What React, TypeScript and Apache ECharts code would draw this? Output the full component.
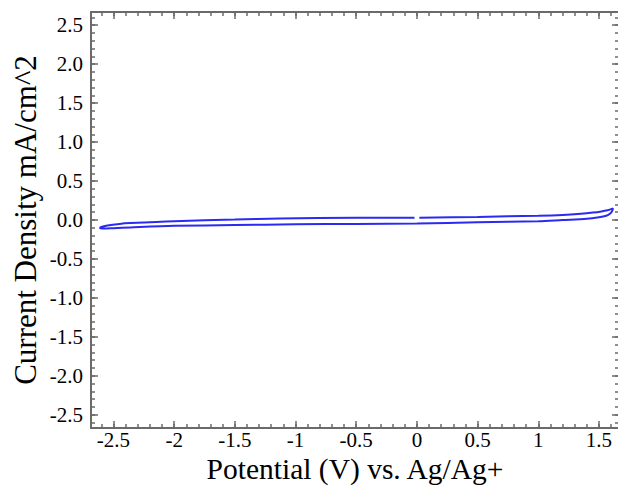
import React, { useEffect, useRef } from "react";
import * as echarts from "echarts";

// Cyclic voltammogram: potential (V) vs. current density (mA/cm^2)
const potential = [
  0.02, 0.5, 1.0, 1.2, 1.35, 1.45, 1.52, 1.57, 1.6, 1.615,
  1.61, 1.59, 1.56, 1.5, 1.4, 1.2, 1.0, 0.5, 0, -0.5, -1.0, -1.5, -2.0, -2.36, -2.5, -2.58, -2.61,
  -2.6, -2.55, -2.45, -2.36, -2.0, -1.5, -1.13, -0.5, -0.02,
];
const current = [
  0.03, 0.04, 0.055, 0.065, 0.08, 0.095, 0.11, 0.125, 0.14, 0.15,
  0.12, 0.08, 0.055, 0.035, 0.015, 0.0, -0.015, -0.03, -0.045, -0.05, -0.055, -0.065, -0.075, -0.095, -0.105, -0.11, -0.105,
  -0.09, -0.07, -0.05, -0.04, -0.015, 0.005, 0.02, 0.03, 0.03,
];

const xTickLabels = [-2.5, -2, -1.5, -1, -0.5, 0, 0.5, 1, 1.5];
const yTickLabels = [-2.5, -2.0, -1.5, -1.0, -0.5, 0.0, 0.5, 1.0, 1.5, 2.0, 2.5];

const X_MIN = -2.685;
const X_MAX = 1.665;
const Y_MIN = -2.67;
const Y_MAX = 2.67;

function minorTicks(lo: number, hi: number, step: number) {
  const out: number[] = [];
  const start = Math.ceil(lo / step);
  const end = Math.floor(hi / step);
  for (let i = start; i <= end; i++) out.push(Math.round(i * step * 100) / 100);
  return out;
}

const FONT = "Liberation Serif";
const AXIS_COLOR = "#6a6a6a";

export default function App() {
  const ref = useRef<HTMLDivElement>(null);

  useEffect(() => {
    if (!ref.current) return;
    const chart = echarts.init(ref.current, null, { renderer: "svg" });
    const xMinor = minorTicks(X_MIN, X_MAX, 0.1);
    const yMinor = minorTicks(Y_MIN, Y_MAX, 0.1);

    const baseX = (position: string, major: boolean, main: boolean) => ({
      type: "value",
      position,
      min: X_MIN,
      max: X_MAX,
      axisLine: { show: main, onZero: false, lineStyle: { color: AXIS_COLOR, width: 2 } },
      axisTick: {
        show: true,
        inside: true,
        length: major ? 7 : 4,
        customValues: major ? xTickLabels : xMinor,
        lineStyle: { color: AXIS_COLOR, width: 1.5 },
      },
      axisLabel: { show: false },
      splitLine: { show: false },
    });
    const baseY = (position: string, major: boolean, main: boolean) => ({
      type: "value",
      position,
      min: Y_MIN,
      max: Y_MAX,
      axisLine: { show: main, onZero: false, lineStyle: { color: AXIS_COLOR, width: 2 } },
      axisTick: {
        show: true,
        inside: true,
        length: major ? 7 : 4,
        customValues: major ? yTickLabels : yMinor,
        lineStyle: { color: AXIS_COLOR, width: 1.5 },
      },
      axisLabel: { show: false },
      splitLine: { show: false },
    });

    const xMain: any = baseX("bottom", true, true);
    xMain.axisLabel = {
      show: true,
      customValues: xTickLabels,
      formatter: (v: number) => String(v),
      fontFamily: FONT,
      fontSize: 21,
      lineHeight: 19,
      color: "#000",
      margin: 2,
    };
    xMain.name = "Potential (V) vs. Ag/Ag+";
    xMain.nameLocation = "middle";
    xMain.nameGap = 28;
    xMain.nameMoveOverlap = false;
    xMain.nameTextStyle = { fontFamily: FONT, fontSize: 29.5, lineHeight: 26, color: "#000" };

    const yMain: any = baseY("left", true, true);
    yMain.axisLabel = {
      show: true,
      customValues: yTickLabels,
      formatter: (v: number) => v.toFixed(1),
      fontFamily: FONT,
      fontSize: 21,
      color: "#000",
      margin: 8,
    };
    yMain.name = "Current Density mA/cm^2";
    yMain.nameLocation = "middle";
    yMain.nameGap = 50;
    yMain.nameMoveOverlap = false;
    yMain.nameTextStyle = { fontFamily: FONT, fontSize: 31, color: "#000" };

    const data = potential.map((p, i) => [p, current[i]]);

    chart.setOption({
      animation: false,
      grid: {
        left: 91,
        top: 12,
        width: 528,
        height: 416,
        containLabel: false,
        outerBoundsMode: "none",
      },
      xAxis: [
        xMain,
        baseX("bottom", false, false),
        baseX("top", true, true),
        baseX("top", false, false),
      ],
      yAxis: [
        yMain,
        baseY("left", false, false),
        baseY("right", true, true),
        baseY("right", false, false),
      ],
      series: [
        {
          type: "line",
          xAxisIndex: 0,
          yAxisIndex: 0,
          data,
          showSymbol: false,
          smooth: 0.3,
          lineStyle: { color: "#2a2af0", width: 2 },
        },
      ],
    });
    return () => chart.dispose();
  }, []);

  return (
    <div
      ref={ref}
      style={{ position: "absolute", left: 0, top: 0, width: 618, height: 486, background: "#fff" }}
    />
  );
}
